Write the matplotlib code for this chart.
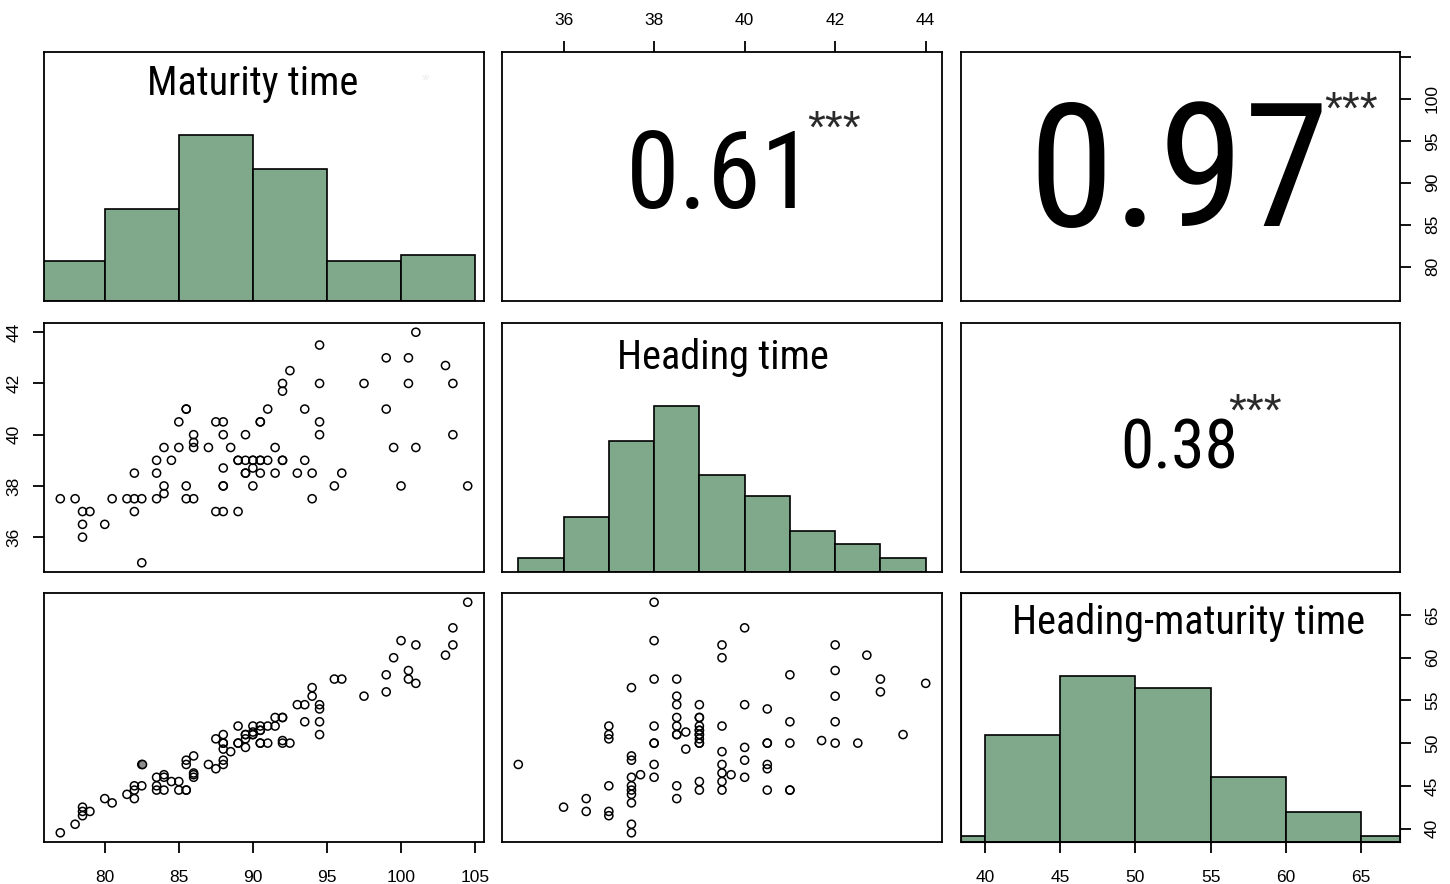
import numpy as np
import matplotlib
matplotlib.use("Agg")
import matplotlib.pyplot as plt
from matplotlib import font_manager

# maturity time and heading time per line (duplicates are overlapping points)
maturity = [77, 78, 78.5, 79, 78.5, 78.5, 80, 80.5, 81.5, 82, 82.5, 82, 82, 82.5,
            83.5, 83.5, 83.5, 84, 84, 84, 84.5, 85, 85, 85.5, 85.5, 85.5, 85.5,
            86, 86, 86, 86, 87, 87.5, 88, 88, 87.5, 88, 88, 88, 88, 88.5, 89,
            89, 89, 89.5, 89.5, 89.5, 89.5, 90, 90, 90, 90, 90.5, 90.5, 90.5,
            90.5, 90.5, 91, 91, 91.5, 91.5, 92, 92, 92, 92, 92.5, 93, 93.5, 93.5,
            94, 94, 94.5, 94.5, 94.5, 94.5, 95.5, 96, 97.5, 99, 99, 99.5, 100,
            100.5, 100.5, 101, 101, 103, 103.5, 103.5, 104.5]
heading = [37.5, 37.5, 37, 37, 36.5, 36, 36.5, 37.5, 37.5, 37.5, 37.5, 38.5, 37, 35,
           37.5, 38.5, 39, 39.5, 38, 37.7, 39, 39.5, 40.5, 41, 41, 38, 37.5,
           37.5, 40, 39.7, 39.5, 39.5, 40.5, 40.5, 40, 37, 37, 38, 38, 38.7, 39.5, 37,
           39, 39, 39, 38.5, 38.5, 40, 39, 39, 38.7, 38, 39, 39, 38.5,
           40.5, 40.5, 39, 41, 39.5, 38.5, 39, 39, 42, 41.7, 42.5, 38.5, 39, 41,
           38.5, 37.5, 43.5, 42, 40.5, 40, 38, 38.5, 42, 43, 41, 39.5, 38,
           43, 42, 39.5, 44, 42.7, 42, 40, 38]
highlight = (82.5, 47.5)  # grey filled point in maturity vs heading-maturity

names = ["Maturity time", "Heading time", "Heading-maturity time"]
breaks = [list(range(75, 106, 5)), list(range(35, 45, 1)), list(range(35, 71, 5))]
cor_text = {(0, 1): "0.61", (0, 2): "0.97", (1, 2): "0.38"}
cor_value = {(0, 1): 0.61, (0, 2): 0.97, (1, 2): 0.38}
stars = "***"

M = np.array(maturity)
H = np.array(heading)
data = [M, H, M - H]

green = "#80a88b"
font_names = {f.name for f in font_manager.fontManager.ttflist}
cands = ["Liberation Sans Narrow", "Arial Narrow", "Nimbus Sans Narrow", "Roboto Condensed",
         "DejaVu Sans Condensed"]
narrow = next((c for c in cands if c in font_names), None)
scale = 1.0
if narrow is None:
    narrow = "Liberation Sans"
    scale = 0.88
plt.rcParams["font.family"] = ["Liberation Sans", "DejaVu Sans"]

W, Hpx = 1450, 884
fig = plt.figure(figsize=(W / 100, Hpx / 100), dpi=100)
xs = [(44, 484), (502, 942), (961, 1400)]
ys = [(52, 301), (323, 572), (593, 842)]


def rng(v):
    lo, hi = v.min(), v.max()
    d = (hi - lo) * 0.04
    return lo - d, hi + d


def rhist(v, br):
    br = np.array(br, dtype=float)
    idx = np.searchsorted(br, v, side="left") - 1
    idx[idx < 0] = 0
    return np.bincount(idx, minlength=len(br) - 1)


tick_kw = dict(length=8, width=1.3, labelsize=12.5, pad=11)

axes = {}
for i in range(3):
    for j in range(3):
        x0, x1 = xs[j]
        y0, y1 = ys[i]
        ax = fig.add_axes([x0 / W, 1 - y1 / Hpx, (x1 - x0) / W, (y1 - y0) / Hpx])
        for s in ax.spines.values():
            s.set_linewidth(1.3)
        ax.set_xlim(rng(data[j]))
        ax.set_ylim(rng(data[i]))
        ax.tick_params(which="both", bottom=False, top=False, left=False, right=False,
                       labelbottom=False, labeltop=False, labelleft=False, labelright=False,
                       **tick_kw)
        axes[(i, j)] = ax

        if i == j:
            br = breaks[i]
            counts = rhist(data[i], br)
            hts = counts / counts.max()
            ax.bar(br[:-1], hts, width=np.diff(br), align="edge", color=green,
                   edgecolor="black", linewidth=1.2)
            ax.set_ylim(0, 1.5)
        elif i > j:
            ax.scatter(data[j], data[i], s=34, facecolors="none", edgecolors="black",
                       linewidths=1.1, zorder=3)
            if (i, j) == (2, 0):
                ax.scatter([highlight[0]], [highlight[1]], s=34, facecolors="#8c8c8c",
                           edgecolors="black", linewidths=1.1, zorder=4)

# diagonal labels
label_pos = [(0.475, 0.875), (0.503, 0.862), (0.519, 0.882)]
for k in range(3):
    ax = axes[(k, k)]
    ax.text(label_pos[k][0], label_pos[k][1], names[k], transform=ax.transAxes,
            ha="center", va="center", fontsize=29 * scale, family=narrow)

# correlation texts
star_pos = {(0, 1): (0.755, 0.685), (0, 2): (0.888, 0.76), (1, 2): (0.67, 0.635)}
for key, txt in cor_text.items():
    ax = axes[key]
    ax.text(0.497, 0.49, txt, transform=ax.transAxes, ha="center", va="center",
            fontsize=128 * cor_value[key] * scale, family=narrow)
    ax.text(star_pos[key][0], star_pos[key][1], stars, transform=ax.transAxes,
            ha="center", va="center", fontsize=33, color="#2a2a2a")

axes[(0, 0)].text(0.868, 0.88, "*", transform=axes[(0, 0)].transAxes, ha="center",
                  va="center", fontsize=14, color="#eeeeee")

# outer axes, R pairs style
ax = axes[(0, 1)]
ax.set_xticks([36, 38, 40, 42, 44])
ax.tick_params(top=True, labeltop=True, pad=9)

ax = axes[(0, 2)]
ax.set_yticks([80, 85, 90, 95, 100, 105])
ax.set_yticklabels(["80", "85", "90", "95", "100", ""])
ax.tick_params(right=True, labelright=True, pad=10)

ax = axes[(1, 0)]
ax.set_yticks([36, 38, 40, 42, 44])
ax.tick_params(left=True, labelleft=True, pad=8)

ax = axes[(2, 0)]
ax.set_xticks([80, 85, 90, 95, 100, 105])
ax.tick_params(bottom=True, labelbottom=True, pad=12)

ax = axes[(2, 2)]
ax2 = ax.twinx()
ax2.set_ylim(rng(data[2]))
ax2.set_yticks([40, 45, 50, 55, 60, 65])
ax2.tick_params(left=False, labelleft=False, right=True, labelright=True, **tick_kw)
ax2.tick_params(pad=10)
ax.set_xticks([40, 45, 50, 55, 60, 65])
ax.tick_params(left=False, labelleft=False, right=False, labelright=False,
               bottom=True, labelbottom=True, pad=12)
for lab in ax2.get_yticklabels():
    lab.set_rotation(90)
    lab.set_va("center")

for key in [(0, 2), (1, 0)]:
    for lab in axes[key].get_yticklabels():
        lab.set_rotation(90)
        lab.set_va("center")

fig.savefig("out.png", dpi=100)
